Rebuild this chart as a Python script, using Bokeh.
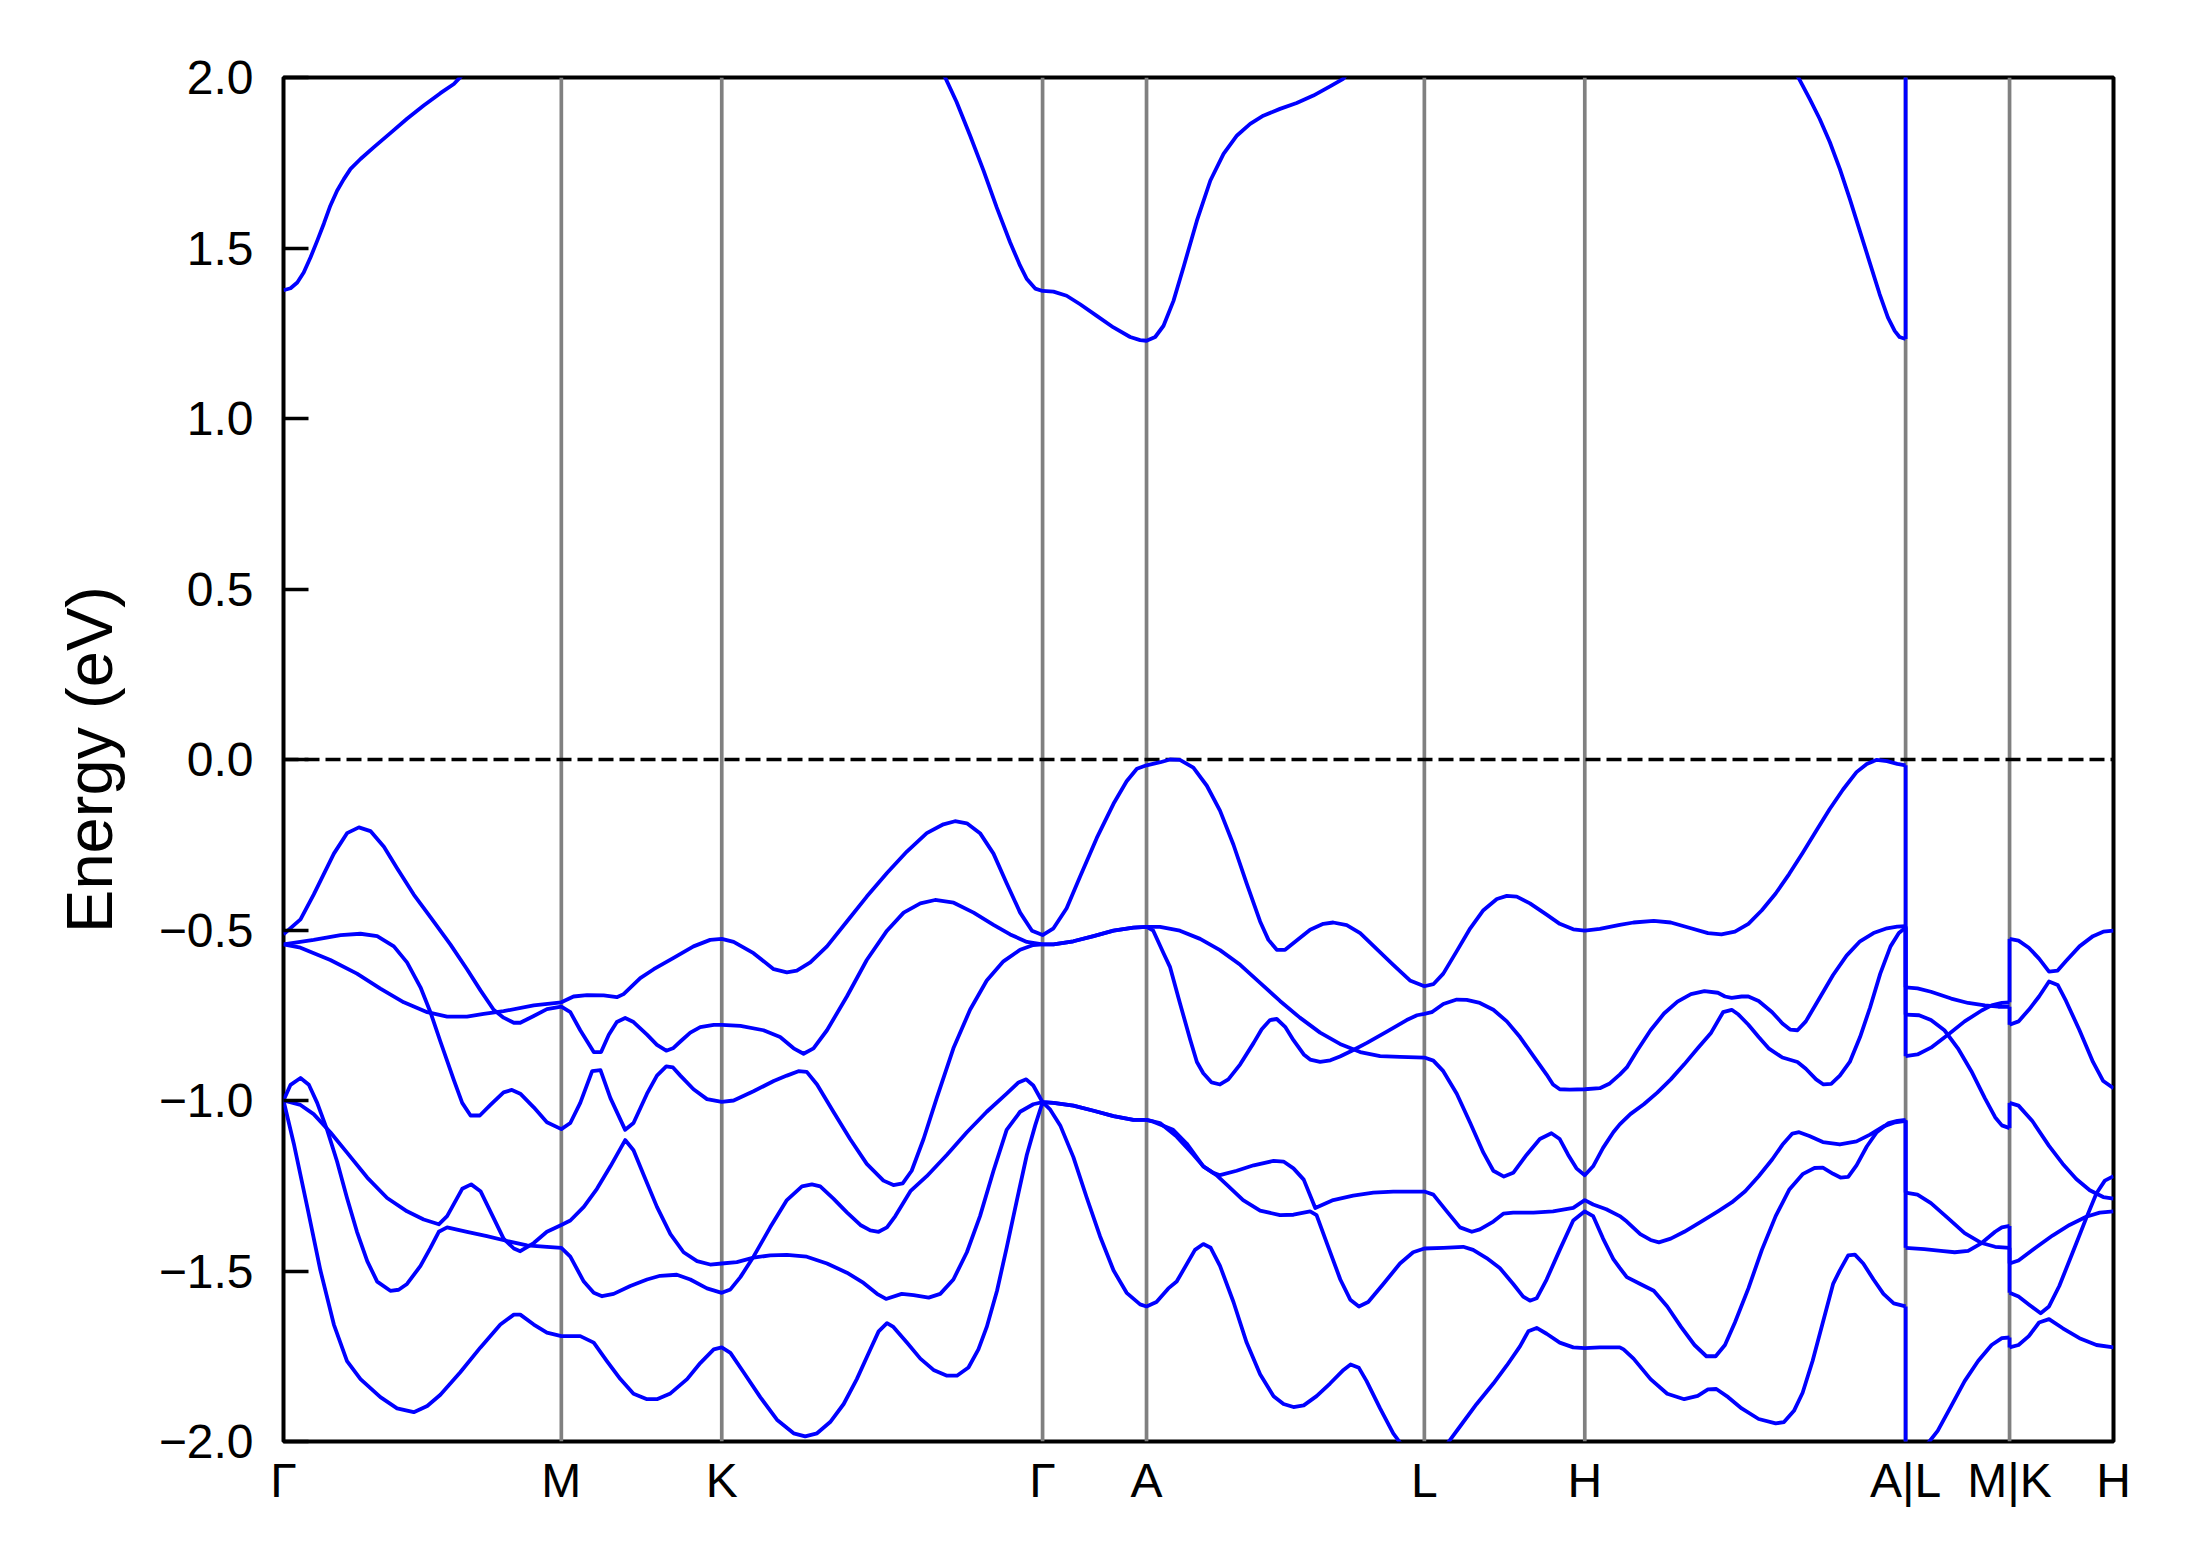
from bokeh.plotting import figure
from bokeh.models import FixedTicker, CustomJSTickFormatter, Span
from bokeh.embed import file_html
from bokeh.resources import INLINE

# ---------------- high-symmetry path ----------------
kpoints = [0.0, 0.866, 1.366, 2.366, 2.690, 3.556, 4.056, 5.056, 5.380, 5.704]
klabels = ["Γ", "M", "K", "Γ", "A", "L", "H", "A|L", "M|K", "H"]
y_ticks = [-2.0, -1.5, -1.0, -0.5, 0.0, 0.5, 1.0, 1.5, 2.0]
k_AL = 5.056   # discontinuity A|L
k_MK = 5.380   # discontinuity M|K

# ---------------- conduction band (k, E) ----------------
cb_GM = [(0.000, 1.376), (0.022, 1.382), (0.043, 1.399), (0.063, 1.428), (0.084, 1.472),
         (0.105, 1.521), (0.126, 1.572), (0.146, 1.624), (0.167, 1.668), (0.188, 1.702),
         (0.209, 1.732), (0.240, 1.761), (0.281, 1.795), (0.333, 1.837), (0.385, 1.879),
         (0.437, 1.918), (0.489, 1.954), (0.531, 1.981), (0.546, 1.996), (0.560, 2.010)]
cb_KGAL = [(2.055, 2.010), (2.062, 2.001), (2.098, 1.928), (2.140, 1.830), (2.182, 1.727),
           (2.223, 1.619), (2.265, 1.516), (2.296, 1.448), (2.317, 1.409), (2.343, 1.381),
           (2.366, 1.374), (2.400, 1.372), (2.441, 1.360), (2.483, 1.335), (2.535, 1.301),
           (2.587, 1.267), (2.639, 1.239), (2.670, 1.230), (2.690, 1.228), (2.717, 1.239),
           (2.743, 1.272), (2.774, 1.345), (2.805, 1.443), (2.847, 1.580), (2.889, 1.698),
           (2.930, 1.776), (2.972, 1.830), (3.013, 1.864), (3.054, 1.888), (3.106, 1.908),
           (3.158, 1.925), (3.210, 1.947), (3.262, 1.974), (3.303, 1.996), (3.315, 2.010)]
cb_HA = [(4.715, 2.010), (4.724, 1.996), (4.757, 1.937), (4.788, 1.879), (4.820, 1.810),
         (4.851, 1.732), (4.882, 1.644), (4.913, 1.551), (4.944, 1.458), (4.975, 1.365),
         (5.001, 1.296), (5.022, 1.257), (5.037, 1.239), (5.056, 1.233)]
cb_at_L_estimate = 2.30   # conduction band at L lies above the plotted window

# ---------------- valence bands, Γ-M-K-Γ-A-L-H-A ----------------
vb_a = [(0.000, -0.542), (0.053, -0.552), (0.146, -0.588), (0.229, -0.628), (0.302, -0.672),
        (0.375, -0.712), (0.448, -0.741), (0.510, -0.754), (0.572, -0.754), (0.624, -0.746),
        (0.686, -0.738), (0.780, -0.721), (0.866, -0.712), (0.904, -0.695), (0.946, -0.691),
        (0.998, -0.692), (1.039, -0.697), (1.060, -0.688), (1.112, -0.641), (1.154, -0.615),
        (1.216, -0.582), (1.278, -0.548), (1.330, -0.529), (1.366, -0.526), (1.403, -0.535),
        (1.465, -0.568), (1.528, -0.615), (1.569, -0.624), (1.600, -0.619), (1.642, -0.595),
        (1.694, -0.548), (1.756, -0.475), (1.818, -0.402), (1.881, -0.333), (1.943, -0.270),
        (2.005, -0.216), (2.057, -0.190), (2.093, -0.181), (2.130, -0.187), (2.171, -0.216),
        (2.213, -0.276), (2.254, -0.363), (2.296, -0.449), (2.333, -0.502), (2.366, -0.515),
        (2.400, -0.495), (2.441, -0.436), (2.483, -0.343), (2.535, -0.230), (2.587, -0.130),
        (2.628, -0.064), (2.660, -0.027), (2.690, -0.017), (2.733, -0.008), (2.763, 0.000),
        (2.794, -0.001), (2.836, -0.024), (2.878, -0.077), (2.919, -0.150), (2.961, -0.250),
        (3.002, -0.363), (3.044, -0.475), (3.070, -0.529), (3.096, -0.558), (3.122, -0.558),
        (3.158, -0.531), (3.200, -0.499), (3.241, -0.482), (3.272, -0.478), (3.314, -0.486),
        (3.356, -0.509), (3.407, -0.555), (3.459, -0.602), (3.511, -0.648), (3.556, -0.665),
        (3.584, -0.659), (3.615, -0.628), (3.657, -0.562), (3.699, -0.495), (3.740, -0.442),
        (3.782, -0.409), (3.813, -0.400), (3.844, -0.402), (3.885, -0.422), (3.937, -0.455),
        (3.978, -0.482), (4.020, -0.498), (4.056, -0.502), (4.103, -0.497), (4.165, -0.485),
        (4.208, -0.478), (4.271, -0.473), (4.324, -0.478), (4.387, -0.495), (4.440, -0.509),
        (4.482, -0.513), (4.524, -0.505), (4.566, -0.482), (4.608, -0.442), (4.651, -0.393),
        (4.693, -0.336), (4.735, -0.274), (4.777, -0.210), (4.819, -0.146), (4.861, -0.088),
        (4.903, -0.037), (4.935, -0.013), (4.966, -0.001), (4.998, -0.005), (5.030, -0.013),
        (5.056, -0.017)]

vb_b = [(0.000, -0.513), (0.053, -0.469), (0.094, -0.396), (0.157, -0.276), (0.198, -0.216),
        (0.235, -0.199), (0.271, -0.210), (0.313, -0.256), (0.354, -0.319), (0.406, -0.396),
        (0.458, -0.462), (0.520, -0.542), (0.572, -0.615), (0.614, -0.677), (0.655, -0.734),
        (0.686, -0.757), (0.718, -0.772), (0.738, -0.772), (0.780, -0.752), (0.821, -0.732),
        (0.866, -0.725), (0.894, -0.741), (0.925, -0.794), (0.967, -0.858), (0.990, -0.858),
        (1.014, -0.807), (1.039, -0.770), (1.065, -0.758), (1.091, -0.770), (1.133, -0.807),
        (1.164, -0.837), (1.193, -0.854), (1.214, -0.847), (1.237, -0.827), (1.268, -0.801),
        (1.299, -0.785), (1.341, -0.778), (1.366, -0.778), (1.424, -0.781), (1.496, -0.794),
        (1.548, -0.814), (1.590, -0.847), (1.621, -0.863), (1.652, -0.847), (1.694, -0.794),
        (1.756, -0.695), (1.818, -0.588), (1.881, -0.502), (1.933, -0.449), (1.985, -0.422),
        (2.031, -0.412), (2.089, -0.420), (2.151, -0.449), (2.213, -0.485), (2.265, -0.513),
        (2.317, -0.535), (2.366, -0.542), (2.400, -0.542), (2.462, -0.533), (2.525, -0.518),
        (2.587, -0.502), (2.649, -0.493), (2.690, -0.491), (2.732, -0.491), (2.794, -0.502),
        (2.857, -0.526), (2.919, -0.559), (2.982, -0.602), (3.044, -0.655), (3.106, -0.708),
        (3.168, -0.757), (3.231, -0.801), (3.293, -0.834), (3.356, -0.858), (3.418, -0.870),
        (3.480, -0.872), (3.556, -0.874), (3.584, -0.883), (3.615, -0.914), (3.657, -0.980),
        (3.699, -1.066), (3.740, -1.153), (3.771, -1.206), (3.804, -1.223), (3.833, -1.212),
        (3.875, -1.159), (3.916, -1.113), (3.952, -1.096), (3.978, -1.113), (4.004, -1.159),
        (4.030, -1.199), (4.056, -1.219), (4.082, -1.193), (4.113, -1.139), (4.145, -1.093),
        (4.165, -1.070), (4.198, -1.040), (4.240, -1.011), (4.282, -0.977), (4.324, -0.938),
        (4.366, -0.894), (4.408, -0.847), (4.450, -0.801), (4.487, -0.741), (4.514, -0.734),
        (4.535, -0.748), (4.566, -0.778), (4.598, -0.814), (4.629, -0.847), (4.672, -0.874),
        (4.719, -0.887), (4.745, -0.907), (4.777, -0.938), (4.800, -0.953), (4.824, -0.951),
        (4.851, -0.927), (4.882, -0.887), (4.914, -0.814), (4.945, -0.728), (4.977, -0.628),
        (5.009, -0.548), (5.035, -0.509), (5.056, -0.493)]

vb_c = [(0.000, -0.542), (0.094, -0.529), (0.178, -0.515), (0.240, -0.511), (0.292, -0.518),
        (0.344, -0.548), (0.385, -0.595), (0.427, -0.668), (0.458, -0.741), (0.489, -0.827),
        (0.531, -0.940), (0.557, -1.007), (0.583, -1.044), (0.612, -1.044), (0.645, -1.013),
        (0.686, -0.976), (0.712, -0.969), (0.738, -0.980), (0.780, -1.020), (0.821, -1.064),
        (0.866, -1.084), (0.894, -1.066), (0.925, -1.007), (0.962, -0.914), (0.988, -0.911),
        (1.019, -0.993), (1.065, -1.086), (1.091, -1.066), (1.133, -0.980), (1.164, -0.927),
        (1.193, -0.900), (1.214, -0.903), (1.237, -0.927), (1.278, -0.967), (1.320, -0.996),
        (1.366, -1.004), (1.403, -1.000), (1.465, -0.973), (1.528, -0.943), (1.569, -0.927),
        (1.605, -0.914), (1.631, -0.916), (1.663, -0.953), (1.714, -1.033), (1.766, -1.113),
        (1.818, -1.186), (1.870, -1.235), (1.901, -1.248), (1.930, -1.243), (1.958, -1.206),
        (1.995, -1.113), (2.036, -0.993), (2.088, -0.847), (2.140, -0.734), (2.192, -0.648),
        (2.244, -0.592), (2.296, -0.558), (2.337, -0.544), (2.366, -0.542), (2.400, -0.542),
        (2.462, -0.533), (2.525, -0.518), (2.587, -0.502), (2.649, -0.493), (2.690, -0.491),
        (2.711, -0.502), (2.743, -0.568), (2.763, -0.608), (2.794, -0.714), (2.826, -0.821),
        (2.847, -0.887), (2.867, -0.920), (2.893, -0.947), (2.919, -0.953), (2.945, -0.938),
        (2.982, -0.894), (3.024, -0.831), (3.049, -0.791), (3.075, -0.764), (3.096, -0.761),
        (3.122, -0.784), (3.148, -0.823), (3.180, -0.865), (3.200, -0.880), (3.231, -0.887),
        (3.263, -0.882), (3.293, -0.871), (3.330, -0.854), (3.377, -0.831), (3.439, -0.798),
        (3.501, -0.764), (3.533, -0.750), (3.556, -0.746), (3.579, -0.741), (3.615, -0.717),
        (3.657, -0.704), (3.688, -0.705), (3.729, -0.714), (3.771, -0.734), (3.813, -0.768),
        (3.854, -0.814), (3.896, -0.870), (3.937, -0.924), (3.957, -0.953), (3.978, -0.967),
        (4.009, -0.968), (4.056, -0.967), (4.103, -0.964), (4.134, -0.950), (4.165, -0.924),
        (4.187, -0.903), (4.219, -0.854), (4.261, -0.794), (4.303, -0.745), (4.345, -0.710),
        (4.387, -0.688), (4.429, -0.679), (4.471, -0.684), (4.493, -0.695), (4.514, -0.699),
        (4.545, -0.695), (4.566, -0.695), (4.598, -0.708), (4.640, -0.741), (4.672, -0.774),
        (4.696, -0.792), (4.719, -0.794), (4.745, -0.768), (4.787, -0.701), (4.830, -0.632),
        (4.872, -0.575), (4.914, -0.533), (4.956, -0.509), (4.998, -0.495), (5.030, -0.490),
        (5.056, -0.489)]

vb_d = [(0.000, -1.000), (0.022, -0.954), (0.053, -0.934), (0.079, -0.954), (0.105, -1.007),
        (0.136, -1.086), (0.167, -1.179), (0.198, -1.286), (0.229, -1.385), (0.261, -1.471),
        (0.292, -1.531), (0.333, -1.558), (0.359, -1.555), (0.385, -1.538), (0.427, -1.485),
        (0.458, -1.432), (0.484, -1.385), (0.510, -1.372), (0.572, -1.385), (0.634, -1.398),
        (0.697, -1.412), (0.759, -1.425), (0.821, -1.429), (0.866, -1.432), (0.894, -1.458),
        (0.936, -1.531), (0.967, -1.564), (0.993, -1.574), (1.029, -1.567), (1.081, -1.544),
        (1.133, -1.525), (1.174, -1.514), (1.226, -1.511), (1.268, -1.525), (1.320, -1.551),
        (1.366, -1.564), (1.393, -1.554), (1.424, -1.518), (1.465, -1.458), (1.517, -1.372),
        (1.569, -1.292), (1.616, -1.252), (1.647, -1.246), (1.673, -1.252), (1.714, -1.288),
        (1.756, -1.328), (1.798, -1.365), (1.829, -1.381), (1.855, -1.385), (1.881, -1.372),
        (1.907, -1.339), (1.954, -1.266), (2.005, -1.222), (2.068, -1.159), (2.130, -1.093),
        (2.192, -1.033), (2.254, -0.980), (2.291, -0.947), (2.315, -0.938), (2.337, -0.956),
        (2.366, -1.005), (2.400, -1.007), (2.462, -1.015), (2.525, -1.030), (2.587, -1.046),
        (2.649, -1.057), (2.690, -1.057), (2.711, -1.062), (2.773, -1.086), (2.815, -1.126),
        (2.867, -1.193), (2.908, -1.219), (2.939, -1.246), (2.991, -1.292), (3.044, -1.323),
        (3.106, -1.336), (3.148, -1.335), (3.200, -1.325), (3.220, -1.336), (3.252, -1.418),
        (3.294, -1.525), (3.325, -1.584), (3.352, -1.604), (3.381, -1.591), (3.428, -1.538),
        (3.480, -1.478), (3.521, -1.445), (3.556, -1.434), (3.615, -1.432), (3.677, -1.429),
        (3.708, -1.438), (3.750, -1.462), (3.791, -1.491), (3.833, -1.538), (3.864, -1.575),
        (3.885, -1.587), (3.906, -1.580), (3.937, -1.525), (3.978, -1.438), (4.020, -1.352),
        (4.056, -1.325), (4.082, -1.339), (4.113, -1.405), (4.145, -1.465), (4.165, -1.491),
        (4.187, -1.518), (4.229, -1.538), (4.271, -1.558), (4.313, -1.604), (4.356, -1.664),
        (4.398, -1.717), (4.435, -1.750), (4.464, -1.750), (4.493, -1.717), (4.524, -1.651),
        (4.566, -1.551), (4.608, -1.438), (4.651, -1.339), (4.693, -1.262), (4.735, -1.216),
        (4.772, -1.198), (4.798, -1.197), (4.830, -1.215), (4.853, -1.226), (4.877, -1.224),
        (4.903, -1.190), (4.935, -1.135), (4.966, -1.093), (5.003, -1.066), (5.030, -1.060),
        (5.056, -1.057)]

vb_e = [(0.000, -1.000), (0.053, -1.013), (0.094, -1.040), (0.146, -1.093), (0.198, -1.153),
        (0.261, -1.226), (0.323, -1.286), (0.385, -1.325), (0.437, -1.349), (0.484, -1.363),
        (0.510, -1.339), (0.557, -1.259), (0.585, -1.246), (0.614, -1.266), (0.655, -1.345),
        (0.686, -1.405), (0.718, -1.434), (0.738, -1.442), (0.780, -1.418), (0.821, -1.385),
        (0.866, -1.365), (0.894, -1.352), (0.936, -1.312), (0.977, -1.259), (1.019, -1.193),
        (1.065, -1.116), (1.091, -1.146), (1.123, -1.219), (1.164, -1.312), (1.206, -1.392),
        (1.247, -1.445), (1.289, -1.471), (1.330, -1.481), (1.366, -1.478), (1.413, -1.474),
        (1.465, -1.461), (1.517, -1.454), (1.569, -1.453), (1.631, -1.458), (1.694, -1.478),
        (1.756, -1.505), (1.808, -1.535), (1.850, -1.567), (1.878, -1.582), (1.927, -1.567),
        (1.964, -1.571), (2.011, -1.578), (2.047, -1.567), (2.088, -1.525), (2.130, -1.445),
        (2.171, -1.339), (2.213, -1.206), (2.254, -1.086), (2.296, -1.033), (2.337, -1.011),
        (2.366, -1.005), (2.400, -1.007), (2.462, -1.015), (2.525, -1.030), (2.587, -1.046),
        (2.649, -1.057), (2.690, -1.057), (2.732, -1.066), (2.784, -1.106), (2.836, -1.159),
        (2.867, -1.193), (2.898, -1.212), (2.919, -1.219), (2.971, -1.206), (3.024, -1.190),
        (3.086, -1.177), (3.117, -1.179), (3.148, -1.199), (3.180, -1.232), (3.216, -1.315),
        (3.272, -1.292), (3.334, -1.279), (3.397, -1.270), (3.459, -1.267), (3.556, -1.267),
        (3.584, -1.276), (3.626, -1.325), (3.667, -1.372), (3.704, -1.385), (3.729, -1.378),
        (3.771, -1.355), (3.802, -1.332), (3.833, -1.329), (3.896, -1.329), (3.957, -1.325),
        (4.020, -1.315), (4.056, -1.292), (4.082, -1.305), (4.123, -1.319), (4.165, -1.339),
        (4.187, -1.355), (4.229, -1.392), (4.261, -1.409), (4.287, -1.416), (4.324, -1.405),
        (4.366, -1.385), (4.419, -1.355), (4.471, -1.325), (4.514, -1.299), (4.556, -1.266),
        (4.598, -1.222), (4.640, -1.173), (4.672, -1.130), (4.703, -1.097), (4.724, -1.093),
        (4.756, -1.104), (4.798, -1.122), (4.851, -1.129), (4.903, -1.120), (4.945, -1.100),
        (4.987, -1.076), (5.024, -1.064), (5.056, -1.060)]

vb_f = [(0.000, -1.000), (0.032, -1.126), (0.074, -1.312), (0.115, -1.498), (0.157, -1.657),
        (0.198, -1.764), (0.240, -1.817), (0.302, -1.870), (0.354, -1.903), (0.406, -1.914),
        (0.448, -1.896), (0.489, -1.863), (0.551, -1.797), (0.614, -1.724), (0.676, -1.657),
        (0.718, -1.628), (0.738, -1.628), (0.780, -1.657), (0.821, -1.681), (0.866, -1.691),
        (0.925, -1.691), (0.967, -1.710), (1.008, -1.764), (1.050, -1.817), (1.091, -1.860),
        (1.133, -1.876), (1.164, -1.876), (1.206, -1.859), (1.258, -1.817), (1.299, -1.770),
        (1.341, -1.730), (1.366, -1.724), (1.393, -1.740), (1.434, -1.797), (1.486, -1.870),
        (1.538, -1.936), (1.590, -1.976), (1.626, -1.985), (1.663, -1.976), (1.704, -1.943),
        (1.746, -1.890), (1.787, -1.817), (1.829, -1.730), (1.855, -1.677), (1.881, -1.653),
        (1.901, -1.664), (1.943, -1.710), (1.985, -1.757), (2.026, -1.790), (2.068, -1.807),
        (2.099, -1.807), (2.135, -1.783), (2.166, -1.730), (2.192, -1.664), (2.224, -1.558),
        (2.254, -1.432), (2.286, -1.292), (2.317, -1.159), (2.343, -1.073), (2.366, -1.005),
        (2.390, -1.027), (2.421, -1.073), (2.462, -1.166), (2.504, -1.286), (2.545, -1.398),
        (2.587, -1.498), (2.628, -1.564), (2.670, -1.598), (2.690, -1.604), (2.721, -1.591),
        (2.758, -1.551), (2.784, -1.531), (2.841, -1.438), (2.867, -1.421), (2.890, -1.432),
        (2.919, -1.485), (2.961, -1.591), (3.002, -1.710), (3.044, -1.803), (3.086, -1.867),
        (3.117, -1.890), (3.148, -1.899), (3.180, -1.894), (3.220, -1.867), (3.262, -1.830),
        (3.304, -1.790), (3.326, -1.774), (3.352, -1.784), (3.376, -1.823), (3.418, -1.903),
        (3.459, -1.976), (3.480, -2.003), (3.556, -2.100), (3.630, -2.003), (3.667, -1.956),
        (3.719, -1.890), (3.771, -1.830), (3.813, -1.777), (3.854, -1.721), (3.880, -1.677),
        (3.906, -1.667), (3.937, -1.684), (3.978, -1.710), (4.020, -1.724), (4.056, -1.726),
        (4.103, -1.724), (4.165, -1.724), (4.177, -1.730), (4.208, -1.757), (4.261, -1.817),
        (4.313, -1.860), (4.366, -1.876), (4.408, -1.866), (4.440, -1.847), (4.466, -1.846),
        (4.503, -1.870), (4.545, -1.903), (4.598, -1.934), (4.651, -1.947), (4.677, -1.943),
        (4.708, -1.910), (4.735, -1.857), (4.766, -1.764), (4.798, -1.651), (4.830, -1.538),
        (4.851, -1.498), (4.877, -1.454), (4.898, -1.452), (4.924, -1.478), (4.956, -1.525),
        (4.987, -1.567), (5.019, -1.595), (5.056, -1.604)]

# ---------------- valence bands, L-M ----------------
lm_1 = [(5.056, -0.668), (5.093, -0.671), (5.135, -0.681), (5.198, -0.701), (5.251, -0.714),
        (5.303, -0.721), (5.345, -0.725), (5.380, -0.725)]
lm_2 = [(5.056, -0.748), (5.098, -0.750), (5.135, -0.764), (5.177, -0.794), (5.219, -0.847),
        (5.261, -0.914), (5.303, -0.993), (5.335, -1.049), (5.356, -1.073), (5.380, -1.081)]
lm_3 = [(5.056, -0.870), (5.093, -0.865), (5.135, -0.845), (5.188, -0.807), (5.240, -0.768),
        (5.293, -0.736), (5.324, -0.721), (5.356, -0.714), (5.380, -0.712)]
lm_4 = [(5.056, -1.270), (5.093, -1.276), (5.135, -1.301), (5.188, -1.345), (5.240, -1.389),
        (5.293, -1.418), (5.335, -1.429), (5.380, -1.432)]
lm_5 = [(5.056, -1.432), (5.114, -1.436), (5.166, -1.441), (5.209, -1.445), (5.251, -1.441),
        (5.293, -1.418), (5.335, -1.385), (5.356, -1.372), (5.380, -1.368)]
lm_6 = [(5.056, -2.080), (5.130, -2.000), (5.156, -1.969), (5.198, -1.896), (5.240, -1.823),
        (5.282, -1.764), (5.324, -1.717), (5.356, -1.697), (5.380, -1.695)]

# ---------------- valence bands, K-H ----------------
kh_1 = [(5.380, -0.526), (5.408, -0.531), (5.440, -0.552), (5.472, -0.584), (5.503, -0.622),
        (5.530, -0.619), (5.556, -0.591), (5.598, -0.548), (5.640, -0.518), (5.672, -0.505),
        (5.704, -0.502)]
kh_2 = [(5.380, -0.778), (5.408, -0.768), (5.440, -0.734), (5.472, -0.695), (5.503, -0.651),
        (5.530, -0.661), (5.556, -0.708), (5.598, -0.794), (5.640, -0.887), (5.672, -0.943),
        (5.704, -0.964)]
kh_3 = [(5.380, -1.007), (5.408, -1.015), (5.451, -1.060), (5.503, -1.133), (5.546, -1.186),
        (5.588, -1.230), (5.630, -1.263), (5.672, -1.283), (5.704, -1.288)]
kh_4 = [(5.380, -1.478), (5.408, -1.469), (5.461, -1.432), (5.514, -1.396), (5.567, -1.365),
        (5.619, -1.341), (5.661, -1.329), (5.704, -1.325)]
kh_5 = [(5.380, -1.564), (5.408, -1.575), (5.440, -1.598), (5.477, -1.624), (5.503, -1.604),
        (5.535, -1.544), (5.577, -1.445), (5.619, -1.345), (5.651, -1.272), (5.677, -1.235),
        (5.704, -1.222)]
kh_6 = [(5.380, -1.724), (5.408, -1.717), (5.440, -1.691), (5.472, -1.651), (5.503, -1.641),
        (5.546, -1.668), (5.598, -1.697), (5.651, -1.717), (5.704, -1.724)]

left_of_AL = [cb_HA, vb_a, vb_b, vb_c, vb_d, vb_e, vb_f]
right_of_AL = [lm_1, lm_2, lm_3, lm_4, lm_5, lm_6]
left_of_MK = [lm_1, lm_2, lm_3, lm_4, lm_5, lm_6]
right_of_MK = [kh_1, kh_2, kh_3, kh_4, kh_5, kh_6]
all_curves = [cb_GM, cb_KGAL, cb_HA, vb_a, vb_b, vb_c, vb_d, vb_e, vb_f,
              lm_1, lm_2, lm_3, lm_4, lm_5, lm_6, kh_1, kh_2, kh_3, kh_4, kh_5, kh_6]

BLUE = "#0000ff"
FONT = "Liberation Sans"

p = figure(width=2191, height=1567, frame_width=1830, frame_height=1364,
           x_range=(kpoints[0], kpoints[-1]), y_range=(-2.0, 2.0),
           output_backend="svg", toolbar_location=None,
           min_border_left=283, min_border_top=77, min_border_right=78, min_border_bottom=126)
p.xgrid.visible = False
p.ygrid.visible = False
p.outline_line_color = "black"
p.outline_line_width = 4
p.outline_line_alpha = 1.0

# high-symmetry lines and Fermi level
for kp in kpoints[1:-1]:
    p.add_layout(Span(location=kp, dimension="height", line_color="#808080",
                      line_width=3.7, level="underlay"))
p.add_layout(Span(location=0.0, dimension="width", line_color="black",
                  line_width=3.6, line_dash="15 6", level="underlay"))

# bands
for c in all_curves:
    p.line([q[0] for q in c], [q[1] for q in c], line_color=BLUE, line_width=3.8,
           line_join="round")

# vertical connections of the bands across the path discontinuities
def jumps(kx, left, right, extra_right=None):
    lv = sorted(c[-1][1] for c in left)
    rv = [c[0][1] for c in right]
    if extra_right is not None:
        rv.append(extra_right)
    rv = sorted(rv)
    n = min(len(lv), len(rv))
    return [(kx, a, b) for a, b in zip(lv[:n], rv[:n])]

segs = jumps(k_AL, left_of_AL, right_of_AL, cb_at_L_estimate) + jumps(k_MK, left_of_MK, right_of_MK)
p.segment(x0=[s[0] for s in segs], y0=[s[1] for s in segs],
          x1=[s[0] for s in segs], y1=[s[2] for s in segs],
          line_color=BLUE, line_width=3.8)

# axes
p.xaxis.ticker = FixedTicker(ticks=kpoints)
p.xaxis.formatter = CustomJSTickFormatter(args=dict(ks=kpoints, labs=klabels), code="""
    let best = -1, bd = 1e9;
    for (let i = 0; i < ks.length; i++) { const d = Math.abs(ks[i] - tick); if (d < bd) { bd = d; best = i; } }
    return bd < 1e-6 ? labs[best] : "";
""")
p.yaxis.ticker = FixedTicker(ticks=y_ticks)
p.yaxis.formatter = CustomJSTickFormatter(code="""
    return (tick < 0 ? "\u2212" : "") + Math.abs(tick).toFixed(1);
""")
for ax in (p.xaxis, p.yaxis):
    ax.axis_line_color = None
    ax.minor_tick_line_color = None
    ax.major_label_text_font = FONT
    ax.major_label_text_font_size = "48px"
    ax.major_label_text_color = "black"
p.xaxis.major_tick_in = 0
p.xaxis.major_tick_out = 0
p.xaxis.major_label_standoff = 12
p.yaxis.major_tick_in = 25
p.yaxis.major_tick_out = 0
p.yaxis.major_tick_line_width = 3.5
p.yaxis.major_tick_line_color = "black"
p.yaxis.major_label_standoff = 30
p.yaxis.axis_label = "Energy (eV)"
p.yaxis.axis_label_text_font = FONT
p.yaxis.axis_label_text_font_size = "65px"
p.yaxis.axis_label_text_font_style = "normal"
p.yaxis.axis_label_text_color = "black"
p.yaxis.axis_label_standoff = 30

open("out.html", "w").write(file_html(p, INLINE))
